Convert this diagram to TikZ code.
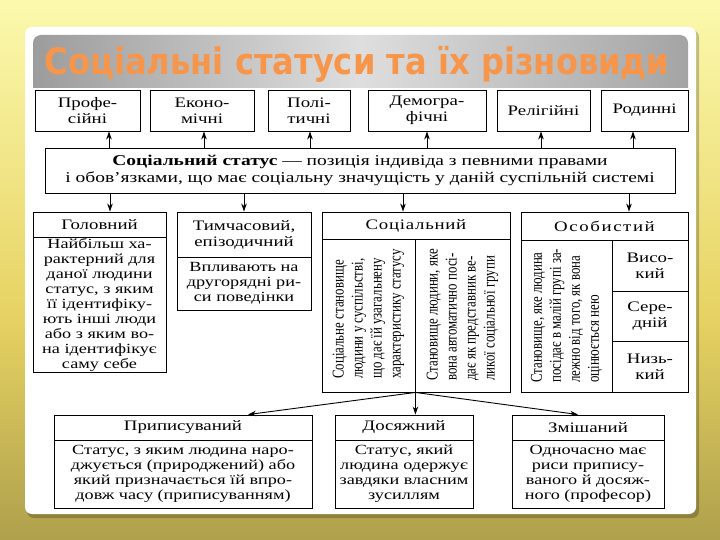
\documentclass[tikz,border=0pt]{standalone}
\usepackage{fontspec}
\setmainfont{Liberation Serif}[FakeStretch=1.3]
\newfontfamily\condfont{Liberation Serif}[FakeStretch=0.78]
\newfontfamily\titlefont{DejaVu Sans}[FakeStretch=0.88]
\usetikzlibrary{arrows.meta}
\definecolor{bgtop}{HTML}{FCF9AD}
\definecolor{bgmid}{HTML}{E6D262}
\definecolor{bgbot}{HTML}{AFA04C}
\definecolor{bandl}{HTML}{9C9C9C}
\definecolor{bandm}{HTML}{DEDEDE}
\definecolor{bandr}{HTML}{A4A4A4}
\definecolor{titleor}{HTML}{F7964A}
\newcommand{\spaced}[2]{{\addfontfeature{LetterSpace=#1}#2}}
\begin{document}
\begin{tikzpicture}[x=1pt,y=-1pt,
  box/.style={draw=black, line width=0.9pt, inner sep=1pt, align=center,
    font=\fontsize{14}{15}\selectfont},
  hbox/.style={box, font=\fontsize{14.5}{16}\selectfont},
  arr/.style={line width=0.9pt, -{Stealth[length=8pt,width=5.5pt]}},
  rot/.style={rotate=90, anchor=west, align=left, inner sep=0pt,
    font=\condfont\fontsize{16.5}{19}\selectfont}]
\useasboundingbox (0,0) rectangle (720,540);
% background
\shade[top color=bgtop, bottom color=bgmid] (0,0) rectangle (720,321);
\shade[top color=bgmid, bottom color=bgbot] (0,320) rectangle (720,540);
% slide
\fill[black, opacity=0.22, rounded corners=7pt] (27,30) rectangle (699,518);
\fill[white, rounded corners=7pt] (25,27) rectangle (696,514);
% banner
\shade[left color=bandl, right color=bandr, middle color=bandm]
  (33,88) [rounded corners=8pt] -- (33,35) -- (688,35) [sharp corners] -- (688,88) -- cycle;
\node[font=\titlefont\bfseries\fontsize{36.5}{38}\selectfont, text=titleor, inner sep=0pt]
  (title) at (357,64) {Соціальні статуси та їх різновиди};

% top row
\node[hbox, minimum width=105pt, minimum height=41pt] (p1) at (87.5,110.5) {Профе-\\сійні};
\node[hbox, minimum width=104pt, minimum height=41pt] (p2) at (202,110.5) {Еконо-\\мічні};
\node[hbox, minimum width=82pt, minimum height=41pt] (p3) at (309,110.5) {Полі-\\тичні};
\node[hbox, minimum width=118pt, minimum height=41pt] (p4) at (427,110.5) {Демогра-\\фічні};
\node[hbox, minimum width=93pt, minimum height=41pt] (p5) at (543.5,110.5) {Релігійні};
\node[hbox, minimum width=87pt, minimum height=41pt] (p6) at (644.5,110.5) {Родинні};

% definition
\node[box, minimum width=630pt, minimum height=45pt, font=\fontsize{15}{17}\selectfont]
  (def) at (360,170.5) {\textbf{Соціальний статус} — позиція індивіда з певними правами\\
  і обов’язками, що має соціальну значущість у даній суспільній системі};

\foreach \n/\x in {p1/109,p2/204,p3/310,p4/427,p5/541,p6/633}
  \draw[arr] (def.north -| \x,0) -- (\n.south -| \x,0);

% row 2
\node[hbox, minimum width=133pt, minimum height=25pt] (gh) at (99.5,224.5) {Головний};
\node[box, minimum width=133pt, minimum height=135pt] (gb) at (99.5,304.5)
  {Найбільш ха-\\рактерний для\\даної людини\\статус, з яким\\її ідентифіку-\\ють інші люди\\або з яким во-\\на ідентифікує\\саму себе};

\node[hbox, minimum width=134pt, minimum height=45pt] (th) at (244,234.5) {Тимчасовий,\\епізодичний};
\node[box, minimum width=134pt, minimum height=53pt] (tb) at (244,283.5)
  {Впливають на\\другорядні ри-\\си поведінки};

\node[hbox, minimum width=188pt, minimum height=27pt] (sh) at (416,225.5) {\spaced{5}{Соціальний}};
\node[box, minimum width=93pt, minimum height=153pt] (s1) at (368.5,315.5) {};
\node[box, minimum width=95pt, minimum height=153pt] (s2) at (462.5,315.5) {};
\node[rot] (s1t) at (368.5,379) {Соціальне становище\\людини у суспільстві,\\що дає їй узагальнену\\характеристику статусу};
\node[rot] (s2t) at (462.5,381) {Становище людини, яке\\вона автоматично посі-\\дає як представник ве-\\ликої соціальної групи};

\node[hbox, minimum width=167pt, minimum height=28pt] (oh) at (604.5,226) {\spaced{11}{Особистий}};
\node[box, minimum width=91pt, minimum height=152pt] (o1) at (566.5,316) {};
\node[rot] (o1t) at (566.5,383) {Становище, яке людина\\посідає в малій групі за-\\лежно від того, як вона\\оцінюється нею};
\node[hbox, minimum width=76pt, minimum height=51pt] (o2) at (650,265.5) {Висо-\\кий};
\node[hbox, minimum width=76pt, minimum height=50pt] (o3) at (650,316) {Сере-\\дній};
\node[hbox, minimum width=76pt, minimum height=51pt] (o4) at (650,366.5) {Низь-\\кий};

\draw[arr] (def.south -| 110,0) -- (gh.north -| 110,0);
\draw[arr] (def.south -| th.north) -- (th.north);
\draw[arr] (def.south -| 403,0) -- (sh.north -| 403,0);
\draw[arr] (def.south -| 629,0) -- (oh.north -| 629,0);

% bottom row
\node[hbox, minimum width=258pt, minimum height=25pt] (ah) at (183,427.5) {Приписуваний};
\node[box, minimum width=258pt, minimum height=68pt] (ab) at (183,474)
  {Статус, з яким людина наро-\\джується (природжений) або\\який призначається їй впро-\\довж часу (приписуванням)};
\node[hbox, minimum width=138pt, minimum height=25pt] (dh) at (404,427.5) {Досяжний};
\node[box, minimum width=138pt, minimum height=68pt] (db) at (404,474)
  {Статус, який\\людина одержує\\завдяки власним\\зусиллям};
\node[hbox, minimum width=152pt, minimum height=25pt] (zh) at (588,427.5) {Змішаний};
\node[box, minimum width=152pt, minimum height=68pt] (zb) at (588,474)
  {Одночасно має\\риси припису-\\ваного й досяж-\\ного (професор)};

\coordinate (j) at (s1.south east);
\draw[arr] (j) -- (ah.north -| 248,0);
\draw[arr] (j) -- (dh.north -| j);
\draw[arr] (j) -- (zh.north -| 578,0);
\end{tikzpicture}
\end{document}
